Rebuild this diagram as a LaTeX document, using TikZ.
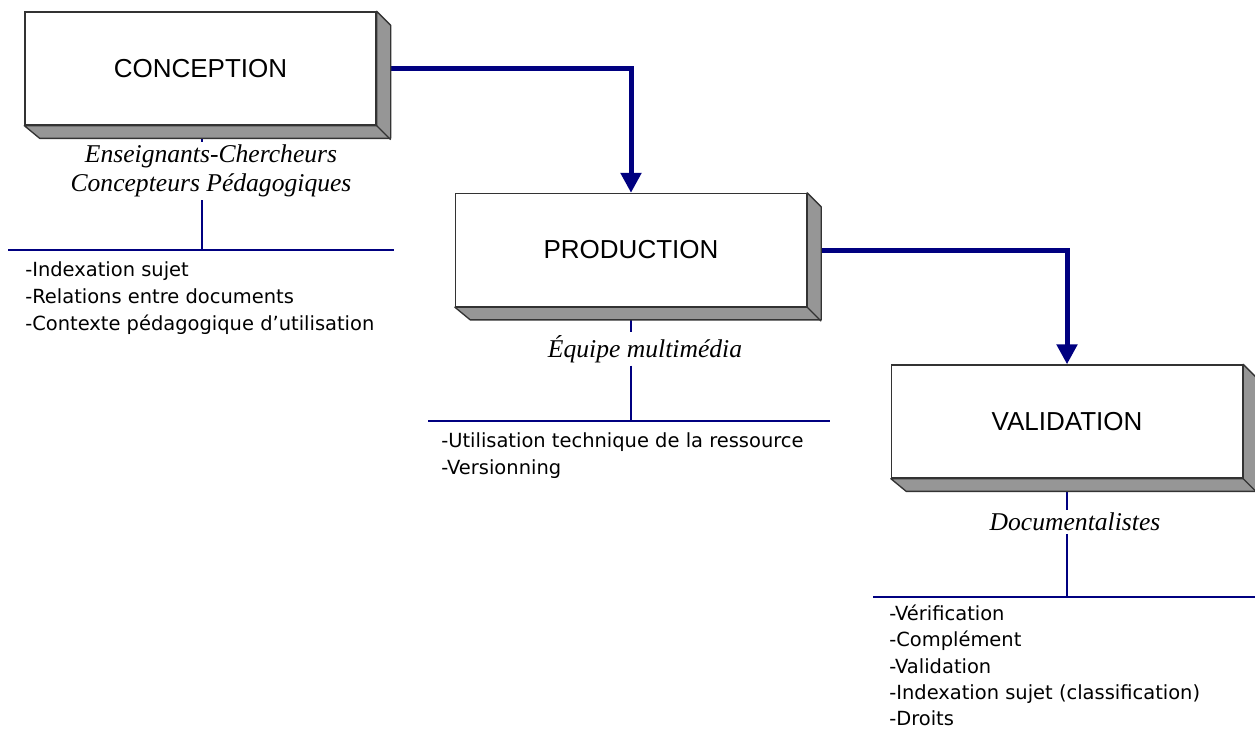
\documentclass[tikz,border=0pt]{standalone}
\usepackage{fontspec}
\setmainfont{DejaVu Sans}
\newfontfamily\titlefont{Liberation Sans}
\newfontfamily\rolefont{Liberation Serif}
\usetikzlibrary{arrows.meta}

\definecolor{flowblue}{RGB}{0,0,128}
\definecolor{facegray}{RGB}{150,150,150}

\tikzset{
	phase/.style={draw=black!80, line width=1pt, fill=white,
		minimum width=263.25pt, minimum height=84.75pt, inner sep=0pt,
		font=\titlefont\fontsize{19.5}{22}\selectfont},
	face/.style={draw=black!80, line width=1pt, fill=facegray, line join=round},
	flow/.style={flowblue, line width=3.75pt, -{Triangle[width=15pt,length=15pt]}},
	tie/.style={flowblue, line width=0.9pt},
	role/.style={font=\rolefont\itshape\fontsize{19.2}{21.75}\selectfont, align=center, inner sep=2pt},
	tasks/.style={font=\fontsize{14.6}{20.25}\selectfont, align=left, anchor=north west, inner sep=0pt},
}

% bevelled side and bottom of a phase box
\newcommand{\bevel}[1]{%
	\draw[face] (#1.north east) -- ++(14,14) -- ++(0,113) -- ++(-351,0)
		-- (#1.south west) -- (#1.south east) -- cycle;
	\draw[black!80, line width=1pt] (#1.south east) -- ++(14,14);
}

\begin{document}
\begin{tikzpicture}[x=0.75pt, y=-0.75pt]
			\useasboundingbox (0,0) rectangle (1255,733);

			% phases
			\node[phase] (conc) at (200.5,68.5) {CONCEPTION};
			\node[phase] (prod) at (631,250) {PRODUCTION};
			\node[phase] (valid) at (1067,421.5) {VALIDATION};

			% actors
			\node[role] (conclab) at (211,171) {Enseignants-Chercheurs\\Concepteurs Pédagogiques};
			\node[role] (prodlab) at (645,349) {Équipe multimédia};
			\node[role] (validlab) at (1075,522) {Documentalistes};

			% rules
			\coordinate (conc-tie) at (202,250);
			\coordinate (conc-l) at (8,250);
			\coordinate (conc-r) at (394,250);
			\coordinate (prod-tie) at (631,421);
			\coordinate (prod-l) at (428,421);
			\coordinate (prod-r) at (830,421);
			\coordinate (valid-tie) at (1067,597);
			\coordinate (valid-l) at (873,597);
			\coordinate (valid-r) at (1255,597);

			\draw[tie] (conc-l) -- (conc-r);
			\draw[tie] (conc.south -| conc-tie) -- (conclab.north -| conc-tie);
			\draw[tie] (conclab.south -| conc-tie) -- (conc-tie);
			\draw[tie] (prod-l) -- (prod-r);
			\draw[tie] (prod.south -| prod-tie) -- (prodlab.north -| prod-tie);
			\draw[tie] (prodlab.south -| prod-tie) -- (prod-tie);
			\draw[tie] (valid-l) -- (valid-r);
			\draw[tie] (valid.south -| valid-tie) -- (validlab.north -| valid-tie);
			\draw[tie] (validlab.south -| valid-tie) -- (valid-tie);

			% flow between phases
			\draw[flow] ([xshift=10.5pt]conc.east) -| (prod.north);
			\draw[flow] ([xshift=10.5pt]prod.east) -| (valid.north);

			\bevel{conc}
			\bevel{prod}
			\bevel{valid}

			% tasks
			\node[tasks] (conctasks) at (25,261) {-Indexation sujet\\-Relations entre documents\\-Contexte pédagogique d’utilisation};
			\node[tasks] (prodtasks) at (441,432) {-Utilisation technique de la ressource\\-Versionning};
			\node[tasks, font=\fontsize{14.6}{19.6}\selectfont] (validtasks) at (889,605) {-Vérification\\-Complément\\-Validation\\-Indexation sujet (classification)\\-Droits};
			\end{tikzpicture}
\end{document}
